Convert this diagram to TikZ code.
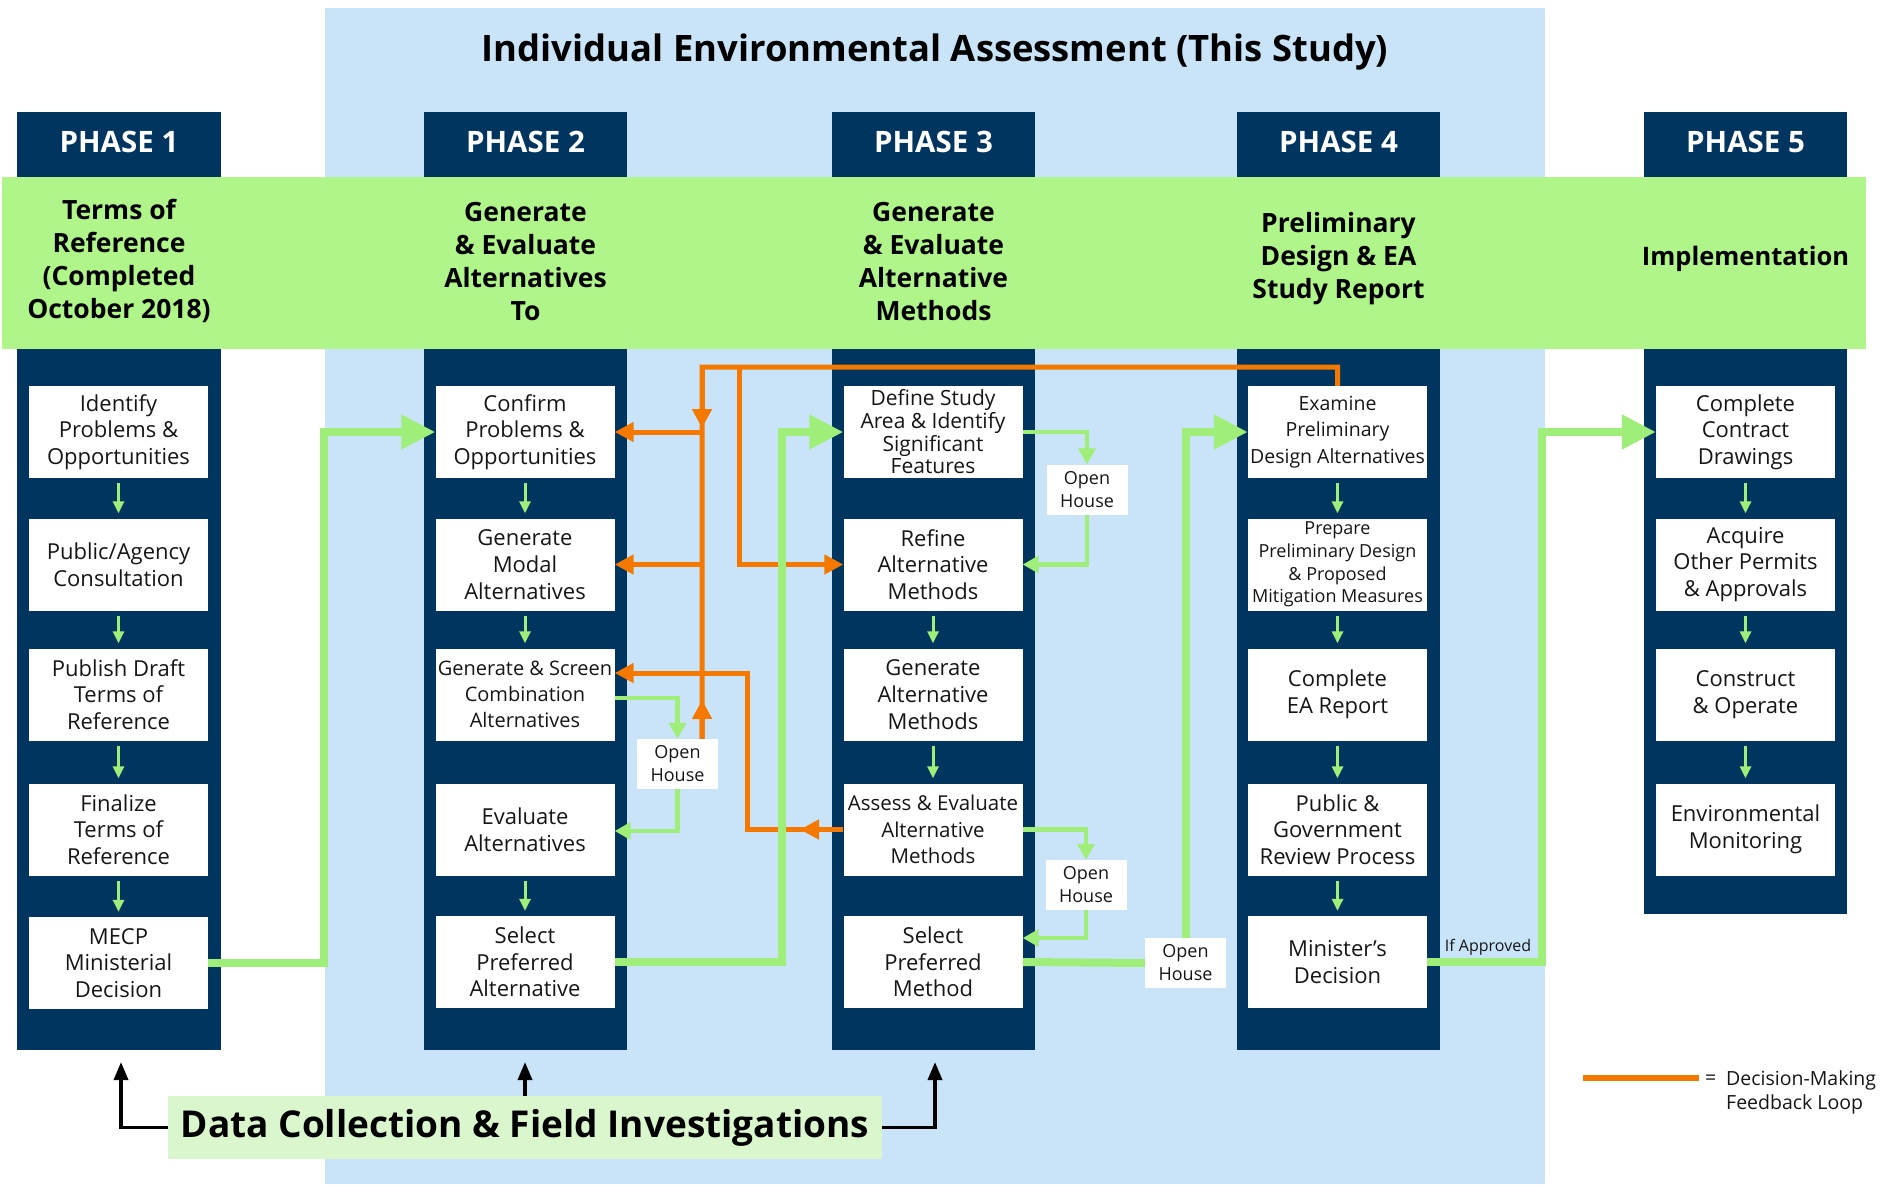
\documentclass[tikz,border=0pt]{standalone}
\usepackage{fontspec}
\setmainfont{Open Sans}
\usetikzlibrary{arrows.meta,calc}

\definecolor{navy}{RGB}{0,53,95}
\definecolor{skyblue}{RGB}{201,228,248}
\definecolor{bandgreen}{RGB}{176,245,138}
\definecolor{flowgreen}{RGB}{160,238,122}
\definecolor{fborange}{RGB}{245,121,0}
\definecolor{dcgreen}{RGB}{218,246,205}
\definecolor{ink}{RGB}{22,22,22}

\tikzset{
  stepbox/.style={fill=white, inner sep=0pt, minimum width=179pt, minimum height=92pt,
    align=center, text=ink, font=\fontsize{22}{26.7}\selectfont},
  openhouse/.style={fill=white, inner sep=0pt, minimum width=81pt, minimum height=50pt,
    align=center, text=ink, font=\fontsize{18}{23}\selectfont},
  phasehead/.style={text=white, inner sep=0pt, font=\fontsize{29.5}{31}\selectfont\bfseries},
  bandtext/.style={align=center, inner sep=0pt, text=black, font=\fontsize{26.5}{33}\selectfont\bfseries},
  stepflow/.style={draw=flowgreen, line width=3pt, -{Triangle[length=12pt,width=11pt]},
    shorten <=5pt, shorten >=5pt},
  ohlink/.style={draw=flowgreen, line width=4.5pt, -{Triangle[length=16pt,width=17pt]}},
  mainplain/.style={draw=flowgreen, line width=8pt},
  mainflow/.style={mainplain, -{Triangle[length=34pt,width=33pt]}},
  fbline/.style={draw=fborange, line width=5pt},
  fbarrow/.style={fbline, -{Triangle[length=19pt,width=19pt]}},
  dcarrow/.style={draw=black, line width=3.5pt, -{Triangle[length=18pt,width=14pt]}},
}

\begin{document}
\begin{tikzpicture}[x=1pt,y=-1pt]
\useasboundingbox (0,0) rectangle (1889,1184);
\fill[white] (0,0) rectangle (1889,1184);

% study area backdrop
\fill[skyblue] (325,8) rectangle (1545,1184);
\node[font=\fontsize{36.4}{40}\selectfont\bfseries, text=black, inner sep=0pt] (title) at (935,52)
  {Individual Environmental Assessment (This Study)};

% phase columns
\foreach \l/\r/\b in {17/221/1050, 424/627/1050, 832/1035/1050, 1237/1440/1050, 1644/1847/914}
  \fill[navy] (\l,112) rectangle (\r,\b);

% phase banner
\fill[bandgreen] (2,177) rectangle (1866,349);

\node[phasehead] (h1) at (119,142) {PHASE 1};
\node[phasehead] (h2) at (525.5,142) {PHASE 2};
\node[phasehead] (h3) at (933.5,142) {PHASE 3};
\node[phasehead] (h4) at (1338.5,142) {PHASE 4};
\node[phasehead] (h5) at (1745.5,142) {PHASE 5};

\node[bandtext] (t1) at (119,261) {Terms of\\Reference\\(Completed\\October 2018)};
\node[bandtext] (t2) at (525.5,262) {Generate\\\& Evaluate\\Alternatives\\To};
\node[bandtext] (t3) at (933.5,262) {Generate\\\& Evaluate\\Alternative\\Methods};
\node[bandtext] (t4) at (1338.5,259) {Preliminary\\Design \& EA\\Study Report};
\node[bandtext, font=\fontsize{25.5}{33}\selectfont\bfseries] (t5) at (1745.5,259) {Implementation};

% Phase 1 steps
\node[stepbox] (idp)  at (118.5,432)   {Identify\\Problems \&\\Opportunities};
\node[stepbox] (pac)  at (118.5,564.5) {Public/Agency\\Consultation};
\node[stepbox] (pdt)  at (118.5,694.5) {Publish Draft\\Terms of\\Reference};
\node[stepbox] (ftr)  at (118.5,829.5) {Finalize\\Terms of\\Reference};
\node[stepbox] (mecp) at (118.5,963)   {MECP\\Ministerial\\Decision};

% Phase 2 steps
\node[stepbox] (conf) at (525,432)   {Confirm\\Problems \&\\Opportunities};
\node[stepbox] (gma)  at (525,564.5) {Generate\\Modal\\Alternatives};
\node[stepbox, font=\fontsize{20}{26}\selectfont] (gs) at (525,694.5) {Generate \& Screen\\Combination\\Alternatives};
\node[stepbox] (eva)  at (525,829.5) {Evaluate\\Alternatives};
\node[stepbox] (sela) at (525,962)   {Select\\Preferred\\Alternative};

% Phase 3 steps
\node[stepbox, font=\fontsize{21}{22.7}\selectfont] (def) at (933,432) {Define Study\\Area \& Identify\\Significant\\Features};
\node[stepbox] (ref)  at (933,564.5) {Refine\\Alternative\\Methods};
\node[stepbox] (gam)  at (933,694.5) {Generate\\Alternative\\Methods};
\node[stepbox, font=\fontsize{20.5}{26.7}\selectfont] (ass) at (933,829.5) {Assess \& Evaluate\\Alternative\\Methods};
\node[stepbox] (selm) at (933,962)   {Select\\Preferred\\Method};

% Phase 4 steps
\node[stepbox, font=\fontsize{19.5}{26.7}\selectfont] (exa) at (1337.5,432) {Examine\\Preliminary\\Design Alternatives};
\node[stepbox, font=\fontsize{18}{22.7}\selectfont] (prep) at (1337.5,564.5) {Prepare\\Preliminary Design\\\& Proposed\\Mitigation Measures};
\node[stepbox] (cea)  at (1337.5,694.5) {Complete\\EA Report};
\node[stepbox] (pgr)  at (1337.5,829.5) {Public \&\\Government\\Review Process};
\node[stepbox] (mind) at (1337.5,962)   {Minister's\\Decision};

% Phase 5 steps
\node[stepbox] (ccd) at (1745.5,432)   {Complete\\Contract\\Drawings};
\node[stepbox] (aop) at (1745.5,564.5) {Acquire\\Other Permits\\\& Approvals};
\node[stepbox] (con) at (1745.5,694.5) {Construct\\\& Operate};
\node[stepbox] (env) at (1745.5,829.5) {Environmental\\Monitoring};

% open houses
\node[openhouse] (oh2)  at (677.5,764)  {Open\\House};
\node[openhouse] (oh3a) at (1087,489.5) {Open\\House};
\node[openhouse] (oh3b) at (1086,885)   {Open\\House};
\node[openhouse] (oh4)  at (1185.5,963) {Open\\House};

% step-to-step arrows inside the columns
\foreach \a/\b in {idp/pac, pac/pdt, pdt/ftr, ftr/mecp,
                   conf/gma, gma/gs, eva/sela,
                   ref/gam, gam/ass,
                   exa/prep, prep/cea, cea/pgr, pgr/mind,
                   ccd/aop, aop/con, con/env}
  \draw[stepflow] (\a.south) -- (\b.north);

% open house consultation loops
\draw[ohlink] (def.east) -| (oh3a.north);
\draw[ohlink] (oh3a.south) |- (ref.east);
\draw[ohlink] ($(gs.east)+(0,3.5)$) -| (oh2.north);
\draw[ohlink] (oh2.south) |- ($(eva.east)+(0,1.5)$);
\draw[ohlink] (ass.east) -| (oh3b.north);
\draw[ohlink] (oh3b.south) |- ($(selm.east)+(0,-24)$);

% decision-making feedback loop
\coordinate (fbA) at (702,367);
\coordinate (fbB) at (739,367);
\coordinate (fbC) at ($(oh2.north east)+(-16,0)$);
\draw[fbline] (exa.north) |- (fbA) -- (fbC);
\draw[fbarrow] (fbA) -- (702,428);
\draw[fbarrow] (fbC) -- (702,700);
\draw[fbarrow] (702,432) -- (conf.east);
\draw[fbarrow] (702,564.5) -- (gma.east);
\draw[fbarrow] (fbB) |- (ref.west);
\draw[fbarrow] (ass.west) -| (747,673) -- ($(gs.east)+(0,-21.5)$);
\draw[fbarrow] (ass.west) -- (800,829.5);

% phase-to-phase flow
\draw[mainflow] (mecp.east) -| (324,432) -- (conf.west);
\draw[mainflow] (sela.east) -| (782,432) -- (def.west);
\draw[mainplain] (selm.east) -- (oh4.west);
\draw[mainflow] (oh4.north) |- (exa.west);
\draw[mainflow] (mind.east) -| (1542,432) -- (ccd.west);
\node[font=\fontsize{16}{18}\selectfont, text=ink, inner sep=0pt] (ifap) at (1488,947) {If Approved};

% data collection feeding phases 1 to 3
\node[fill=dcgreen, inner sep=0pt, minimum width=714pt, minimum height=63pt,
      font=\fontsize{37}{40}\selectfont\bfseries, text=black] (dc) at (525,1127.5)
  {Data Collection \& Field Investigations};
\coordinate (base1) at (121,1050);
\coordinate (base2) at (525,1050);
\coordinate (base3) at (935,1050);
\draw[dcarrow, shorten >=12pt] (dc.west) -| (base1);
\draw[dcarrow, shorten >=12pt] (dc.north -| base2) -- (base2);
\draw[dcarrow, shorten >=12pt] (dc.east) -| (base3);

% legend
\coordinate (lgA) at (1583,1078);
\coordinate (lgB) at (1699,1078);
\draw[fbline, line width=5.5pt] (lgA) -- (lgB);
\node[anchor=west, inner sep=0pt, font=\fontsize{19.5}{24}\selectfont, text=ink] (lgeq) at (1705,1080) {=};
\node[anchor=west, inner sep=0pt, font=\fontsize{19.5}{24}\selectfont, text=ink] (lgt1) at (1726,1080) {Decision-Making};
\node[anchor=west, inner sep=0pt, font=\fontsize{19.5}{24}\selectfont, text=ink] (lgt2) at (1726,1104) {Feedback Loop};
\end{tikzpicture}
\end{document}
